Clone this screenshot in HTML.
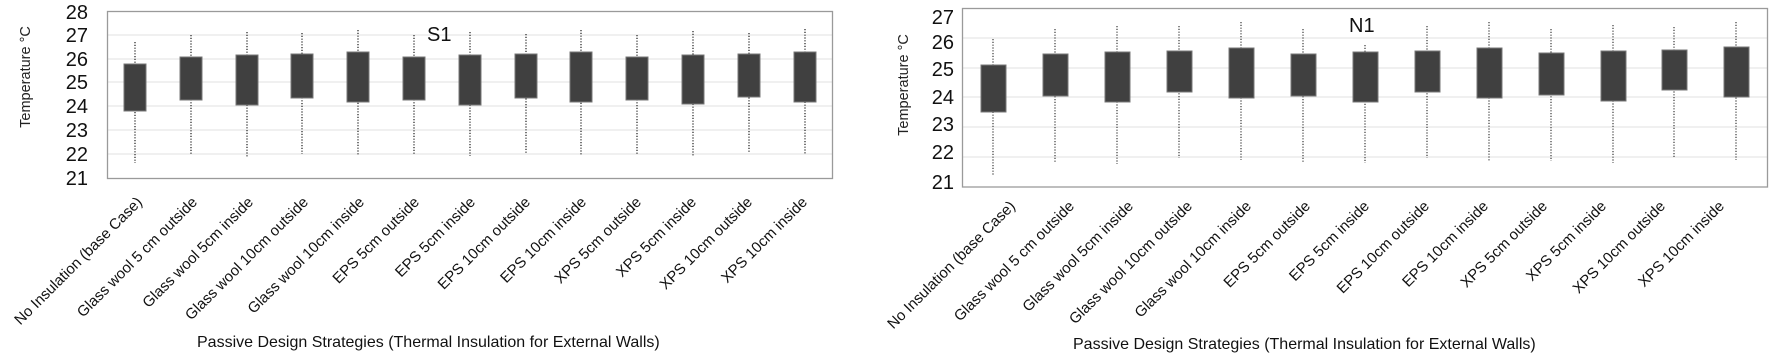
<!DOCTYPE html>
<html><head><meta charset="utf-8"><style>
html,body{margin:0;padding:0;background:#fff;}
svg{display:block;font-family:"Liberation Sans",sans-serif;}
</style></head><body>
<svg width="1772" height="356" viewBox="0 0 1772 356" xmlns="http://www.w3.org/2000/svg">
<rect width="1772" height="356" fill="#fff"/>
<!-- LEFT CHART -->
<g stroke="#e6e6e6" stroke-width="1.2">
<line x1="107" x2="832" y1="35" y2="35"/><line x1="107" x2="832" y1="59" y2="59"/><line x1="107" x2="832" y1="82" y2="82"/><line x1="107" x2="832" y1="106" y2="106"/><line x1="107" x2="832" y1="130" y2="130"/><line x1="107" x2="832" y1="154" y2="154"/>
</g>
<rect x="107.5" y="11.5" width="725" height="167" fill="none" stroke="#9a9a9a" stroke-width="1.3"/>
<g fill="#111" font-size="20" text-anchor="end">
<text x="88" y="19">28</text><text x="88" y="42">27</text><text x="88" y="66">26</text><text x="88" y="89">25</text><text x="88" y="113">24</text><text x="88" y="137">23</text><text x="88" y="161">22</text><text x="88" y="185">21</text>
</g>
<text transform="translate(30,77) rotate(-90)" font-size="14.5" text-anchor="middle" fill="#222">Temperature °C</text>
<text x="427" y="41" font-size="20" fill="#111">S1</text>
<g stroke="#555" stroke-width="1.6" stroke-dasharray="1.2 1.6">
<line x1="135" x2="135" y1="42" y2="163"/><line x1="191" x2="191" y1="35" y2="155"/><line x1="247" x2="247" y1="32" y2="157"/><line x1="302" x2="302" y1="33" y2="154"/><line x1="358" x2="358" y1="30" y2="155"/><line x1="414" x2="414" y1="35" y2="155"/><line x1="470" x2="470" y1="32" y2="156"/><line x1="526" x2="526" y1="34" y2="153"/><line x1="581" x2="581" y1="30" y2="155"/><line x1="637" x2="637" y1="35" y2="154"/><line x1="693" x2="693" y1="31" y2="156"/><line x1="749" x2="749" y1="33" y2="153"/><line x1="805" x2="805" y1="29" y2="154"/>
</g>
<g fill="#404040" stroke="#777" stroke-width="1">
<rect x="124" y="64" width="22" height="47"/><rect x="180" y="57" width="22" height="43"/><rect x="236" y="55" width="22" height="50"/><rect x="291" y="54" width="22" height="44"/><rect x="347" y="52" width="22" height="50"/><rect x="403" y="57" width="22" height="43"/><rect x="459" y="55" width="22" height="50"/><rect x="515" y="54" width="22" height="44"/><rect x="570" y="52" width="22" height="50"/><rect x="626" y="57" width="22" height="43"/><rect x="682" y="55" width="22" height="49"/><rect x="738" y="54" width="22" height="43"/><rect x="794" y="52" width="22" height="50"/>
</g>
<g fill="#111" font-size="15" text-anchor="end">
<text transform="translate(143,203) rotate(-45)">No Insulation (base Case)</text>
<text transform="translate(198,203) rotate(-45)">Glass wool 5 cm outside</text>
<text transform="translate(254,203) rotate(-45)">Glass wool 5cm inside</text>
<text transform="translate(309,203) rotate(-45)">Glass wool 10cm outside</text>
<text transform="translate(365,203) rotate(-45)">Glass wool 10cm inside</text>
<text transform="translate(420,203) rotate(-45)">EPS 5cm outside</text>
<text transform="translate(476,203) rotate(-45)">EPS 5cm inside</text>
<text transform="translate(531,203) rotate(-45)">EPS 10cm outside</text>
<text transform="translate(587,203) rotate(-45)">EPS 10cm inside</text>
<text transform="translate(642,203) rotate(-45)">XPS 5cm outside</text>
<text transform="translate(697,203) rotate(-45)">XPS 5cm inside</text>
<text transform="translate(753,203) rotate(-45)">XPS 10cm outside</text>
<text transform="translate(808,203) rotate(-45)">XPS 10cm inside</text>
</g>
<text x="197" y="347" font-size="16" fill="#111">Passive Design Strategies (Thermal Insulation for External Walls)</text>

<!-- RIGHT CHART -->
<g stroke="#e6e6e6" stroke-width="1.2">
<line x1="962" x2="1767" y1="38" y2="38"/><line x1="962" x2="1767" y1="68" y2="68"/><line x1="962" x2="1767" y1="97" y2="97"/><line x1="962" x2="1767" y1="127" y2="127"/><line x1="962" x2="1767" y1="157" y2="157"/>
</g>
<rect x="962.5" y="8.5" width="805" height="178.5" fill="none" stroke="#9a9a9a" stroke-width="1.3"/>
<g fill="#111" font-size="20" text-anchor="end">
<text x="954" y="24">27</text><text x="954" y="49">26</text><text x="954" y="76">25</text><text x="954" y="104">24</text><text x="954" y="131">23</text><text x="954" y="159">22</text><text x="954" y="189">21</text>
</g>
<text transform="translate(908,85) rotate(-90)" font-size="14.5" text-anchor="middle" fill="#222">Temperature °C</text>
<text x="1349" y="32" font-size="20" fill="#111">N1</text>
<g stroke="#555" stroke-width="1.4" stroke-dasharray="1.2 1.6">
<line x1="993" x2="993" y1="39" y2="175"/><line x1="1055" x2="1055" y1="29" y2="162"/><line x1="1117" x2="1117" y1="26" y2="164"/><line x1="1179" x2="1179" y1="26" y2="158"/><line x1="1241" x2="1241" y1="22" y2="160"/><line x1="1303" x2="1303" y1="29" y2="162"/><line x1="1365" x2="1365" y1="45" y2="163"/><line x1="1427" x2="1427" y1="26" y2="158"/><line x1="1489" x2="1489" y1="22" y2="161"/><line x1="1551" x2="1551" y1="29" y2="161"/><line x1="1613" x2="1613" y1="25" y2="163"/><line x1="1674" x2="1674" y1="27" y2="157"/><line x1="1736" x2="1736" y1="22" y2="160"/>
</g>
<g fill="#404040" stroke="#777" stroke-width="1">
<rect x="981" y="65" width="25" height="47"/><rect x="1043" y="54" width="25" height="42"/><rect x="1105" y="52" width="25" height="50"/><rect x="1167" y="51" width="25" height="41"/><rect x="1229" y="48" width="25" height="50"/><rect x="1291" y="54" width="25" height="42"/><rect x="1353" y="52" width="25" height="50"/><rect x="1415" y="51" width="25" height="41"/><rect x="1477" y="48" width="25" height="50"/><rect x="1539" y="53" width="25" height="42"/><rect x="1601" y="51" width="25" height="50"/><rect x="1662" y="50" width="25" height="40"/><rect x="1724" y="47" width="25" height="50"/>
</g>
<g fill="#111" font-size="15" text-anchor="end">
<text transform="translate(1016,207) rotate(-45)">No Insulation (base Case)</text>
<text transform="translate(1075,207) rotate(-45)">Glass wool 5 cm outside</text>
<text transform="translate(1134,207) rotate(-45)">Glass wool 5cm inside</text>
<text transform="translate(1193,207) rotate(-45)">Glass wool 10cm outside</text>
<text transform="translate(1252,207) rotate(-45)">Glass wool 10cm inside</text>
<text transform="translate(1311,207) rotate(-45)">EPS 5cm outside</text>
<text transform="translate(1370,207) rotate(-45)">EPS 5cm inside</text>
<text transform="translate(1430,207) rotate(-45)">EPS 10cm outside</text>
<text transform="translate(1489,207) rotate(-45)">EPS 10cm inside</text>
<text transform="translate(1548,207) rotate(-45)">XPS 5cm outside</text>
<text transform="translate(1607,207) rotate(-45)">XPS 5cm inside</text>
<text transform="translate(1666,207) rotate(-45)">XPS 10cm outside</text>
<text transform="translate(1725,207) rotate(-45)">XPS 10cm inside</text>
</g>
<text x="1073" y="349" font-size="16" fill="#111">Passive Design Strategies (Thermal Insulation for External Walls)</text>
</svg>
</body></html>
